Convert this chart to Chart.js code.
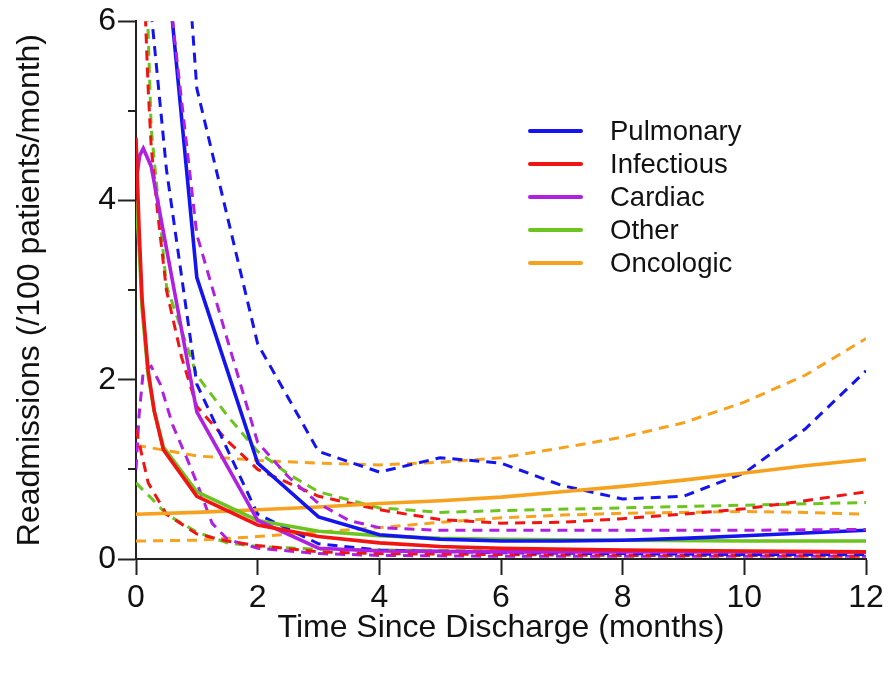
<!DOCTYPE html>
<html>
<head>
<meta charset="utf-8">
<script src="https://cdn.jsdelivr.net/npm/chart.js@4.4.1/dist/chart.umd.min.js"></script>
<style>
  html, body { margin: 0; padding: 0; background: #ffffff; }
  #wrap { position: relative; width: 888px; height: 677px; }
  #legend { position: absolute; left: 528px; top: 114px; font-family: "Liberation Sans", Arial, sans-serif; font-size: 27.5px; color: #111; }
  #legend .row { display: flex; align-items: center; height: 33px; }
  #legend .sw { display: inline-block; width: 55px; height: 4px; border-radius: 2px; margin-right: 27px; }
</style>
</head>
<body>
<div id="wrap">
  <canvas id="c" width="888" height="677"></canvas>
  <div id="legend"></div>
</div>
<script>
// ---- Data (months since discharge, readmissions per 100 patients per month) ----
const seriesNames = ["Pulmonary", "Infectious", "Cardiac", "Other", "Oncologic"];

const pulmonaryMeanX  = [0.5, 1, 2, 3, 4, 5, 6, 7, 8, 9, 10, 11, 12];
const pulmonaryMean   = [6.7, 3.14, 1.07, 0.47, 0.27, 0.22, 0.2, 0.2, 0.21, 0.23, 0.26, 0.29, 0.32];
const pulmonaryLowX   = [0.25, 0.5, 1, 2, 3, 4, 6, 8, 10, 12];
const pulmonaryLow    = [6.1, 4.35, 1.95, 0.5, 0.17, 0.1, 0.07, 0.06, 0.05, 0.05];
const pulmonaryHighX  = [0.5, 1, 2, 3, 4, 5, 6, 7, 8, 9, 10, 11, 12];
const pulmonaryHigh   = [10, 5.25, 2.4, 1.2, 0.97, 1.13, 1.07, 0.82, 0.67, 0.7, 0.96, 1.45, 2.1];

const infectiousMeanX = [0, 0.05, 0.1, 0.2, 0.3, 0.45, 1, 2, 3, 4, 5, 6, 8, 10, 12];
const infectiousMean  = [4.7, 3.7, 2.9, 2.1, 1.65, 1.22, 0.7, 0.38, 0.25, 0.18, 0.14, 0.12, 0.1, 0.09, 0.08];
const infectiousLowX  = [0, 0.2, 0.5, 1, 1.5, 2, 3, 4, 6, 8, 10, 12];
const infectiousLow   = [1.45, 0.85, 0.5, 0.28, 0.2, 0.15, 0.08, 0.06, 0.05, 0.04, 0.04, 0.03];
const infectiousHighX = [0.1, 0.2, 0.25, 0.35, 0.5, 0.75, 1, 1.5, 2, 3, 4, 5, 6, 7, 8, 9, 10, 11, 12];
const infectiousHigh  = [7.0, 5.25, 4.6, 3.9, 3.0, 2.25, 1.7, 1.32, 1.0, 0.7, 0.55, 0.44, 0.4, 0.41, 0.45, 0.5, 0.56, 0.65, 0.75];

const cardiacMeanX    = [0, 0.06, 0.12, 0.25, 1, 2, 3, 4, 6, 8, 10, 12];
const cardiacMean     = [4.2, 4.5, 4.58, 4.38, 1.64, 0.43, 0.12, 0.09, 0.08, 0.08, 0.08, 0.08];
const cardiacLowX     = [0, 0.05, 0.12, 0.25, 0.4, 0.6, 0.85, 1, 1.25, 1.5, 2, 3, 4, 6, 8, 10, 12];
const cardiacLow      = [1.0, 1.6, 2.1, 2.15, 1.95, 1.5, 1.1, 0.85, 0.4, 0.22, 0.12, 0.06, 0.04, 0.03, 0.03, 0.03, 0.03];
const cardiacHighX    = [0.5, 1, 1.5, 2, 2.5, 3, 3.5, 4, 5, 6, 8, 10, 12];
const cardiacHigh     = [6.6, 3.62, 2.45, 1.3, 0.92, 0.62, 0.43, 0.35, 0.32, 0.32, 0.32, 0.32, 0.33];

const otherMeanX      = [0, 0.05, 0.1, 0.2, 0.3, 0.45, 1, 2, 3, 4, 5, 6, 8, 10, 12];
const otherMean       = [4.0, 3.5, 2.8, 2.05, 1.65, 1.25, 0.75, 0.43, 0.31, 0.26, 0.23, 0.22, 0.21, 0.2, 0.2];
const otherLowX       = [0, 0.1, 0.25, 0.5, 1, 1.5, 2, 3, 4, 6, 8, 10, 12];
const otherLow        = [0.85, 0.78, 0.68, 0.5, 0.3, 0.18, 0.14, 0.11, 0.1, 0.09, 0.09, 0.08, 0.08];
const otherHighX      = [0.1, 0.25, 0.5, 0.75, 1, 1.5, 2, 2.5, 3, 4, 5, 6, 8, 10, 12];
const otherHigh       = [8, 4.8, 3.05, 2.55, 2.05, 1.6, 1.2, 0.95, 0.75, 0.57, 0.52, 0.54, 0.57, 0.6, 0.63];

const oncologicX      = [0, 1, 2, 3, 4, 5, 6, 7, 8, 9, 10, 11, 12];
const oncologicMean   = [0.5, 0.52, 0.55, 0.58, 0.62, 0.65, 0.69, 0.75, 0.81, 0.88, 0.96, 1.04, 1.11];
const oncologicLow    = [0.2, 0.21, 0.25, 0.3, 0.35, 0.41, 0.46, 0.49, 0.51, 0.52, 0.53, 0.52, 0.5];
const oncologicHigh   = [1.27, 1.15, 1.1, 1.07, 1.05, 1.08, 1.13, 1.24, 1.36, 1.52, 1.75, 2.05, 2.46];

const xTickValues = [0, 2, 4, 6, 8, 10, 12];
const yMajorTicks = [0, 2, 4, 6];
const yMinorTicks = [1, 3, 5];
// ---------------------------------------------------------------------------

const colors = {
  Pulmonary: "#1414f0",
  Infectious: "#f01414",
  Cardiac: "#b020e0",
  Other: "#6cc41e",
  Oncologic: "#f7a21e"
};

function pts(xs, ys) { return xs.map((x, i) => ({ x: x, y: ys[i] })); }

function solid(name, xs, ys) {
  return { label: name, data: pts(xs, ys), borderColor: colors[name], backgroundColor: colors[name],
           borderWidth: 3.6, pointRadius: 0, tension: 0, fill: false };
}
function dashed(name, xs, ys) {
  return { label: name + " CI", data: pts(xs, ys), borderColor: colors[name], backgroundColor: colors[name],
           borderWidth: 3, borderDash: [10, 7], pointRadius: 0, tension: 0, fill: false };
}

// index 0 is drawn on top
const datasets = [
  dashed("Cardiac", cardiacHighX, cardiacHigh),
  solid("Infectious", infectiousMeanX, infectiousMean),
  solid("Pulmonary", pulmonaryMeanX, pulmonaryMean),
  solid("Cardiac", cardiacMeanX, cardiacMean),
  solid("Other", otherMeanX, otherMean),
  solid("Oncologic", oncologicX, oncologicMean),
  dashed("Pulmonary", pulmonaryLowX, pulmonaryLow),
  dashed("Pulmonary", pulmonaryHighX, pulmonaryHigh),
  dashed("Infectious", infectiousLowX, infectiousLow),
  dashed("Infectious", infectiousHighX, infectiousHigh),
  dashed("Cardiac", cardiacLowX, cardiacLow),
  dashed("Other", otherLowX, otherLow),
  dashed("Other", otherHighX, otherHigh),
  dashed("Oncologic", oncologicX, oncologicLow),
  dashed("Oncologic", oncologicX, oncologicHigh)
];

const axisColor = "#222222";
const tickFont = { family: "'Liberation Sans', Arial, sans-serif", size: 32 };
const titleFont = { family: "'Liberation Sans', Arial, sans-serif", size: 32 };

const minorTicksPlugin = {
  id: "minorTicks",
  afterDraw(chart) {
    const y = chart.scales.y;
    const ctx = chart.ctx;
    ctx.save();
    ctx.strokeStyle = axisColor;
    ctx.lineWidth = 2;
    ctx.beginPath();
    yMinorTicks.forEach(v => {
      const py = Math.round(y.getPixelForValue(v));
      ctx.moveTo(chart.chartArea.left - 8, py);
      ctx.lineTo(chart.chartArea.left, py);
    });
    ctx.stroke();
    ctx.restore();
  }
};

new Chart(document.getElementById("c"), {
  type: "line",
  data: { datasets: datasets },
  plugins: [minorTicksPlugin],
  options: {
    responsive: false,
    animation: false,
    devicePixelRatio: 1,
    layout: { padding: { top: 21, right: 22, left: 0, bottom: 0 } },
    plugins: { legend: { display: false }, tooltip: { enabled: false } },
    scales: {
      x: {
        type: "linear",
        min: 0, max: 12,
        afterFit(scale) { scale.height = 118; },
        afterBuildTicks(scale) { scale.ticks = xTickValues.map(v => ({ value: v })); },
        ticks: { font: tickFont, color: "#111", padding: 4, maxRotation: 0, autoSkip: false },
        grid: { display: true, drawOnChartArea: false, drawTicks: true, tickLength: 16, tickWidth: 2, tickColor: axisColor },
        border: { display: true, color: axisColor, width: 2 },
        title: { display: true, text: "Time Since Discharge (months)", font: titleFont, color: "#111", padding: { top: 0, bottom: 30 } }
      },
      y: {
        type: "linear",
        min: 0, max: 6,
        afterFit(scale) { scale.width = 136; },
        afterBuildTicks(scale) { scale.ticks = yMajorTicks.map(v => ({ value: v })); },
        ticks: { font: tickFont, color: "#111", padding: 2, autoSkip: false },
        grid: { display: true, drawOnChartArea: false, drawTicks: true, tickLength: 18, tickWidth: 2, tickColor: axisColor },
        border: { display: true, color: axisColor, width: 2 },
        title: { display: true, text: "Readmissions (/100 patients/month)", font: titleFont, color: "#111", padding: { top: 11, bottom: 0 } }
      }
    }
  }
});

// HTML legend built from the series names
const legend = document.getElementById("legend");
seriesNames.forEach(name => {
  const row = document.createElement("div");
  row.className = "row";
  const sw = document.createElement("span");
  sw.className = "sw";
  sw.style.background = colors[name];
  const tx = document.createElement("span");
  tx.textContent = name;
  row.appendChild(sw);
  row.appendChild(tx);
  legend.appendChild(row);
});
</script>
</body>
</html>
